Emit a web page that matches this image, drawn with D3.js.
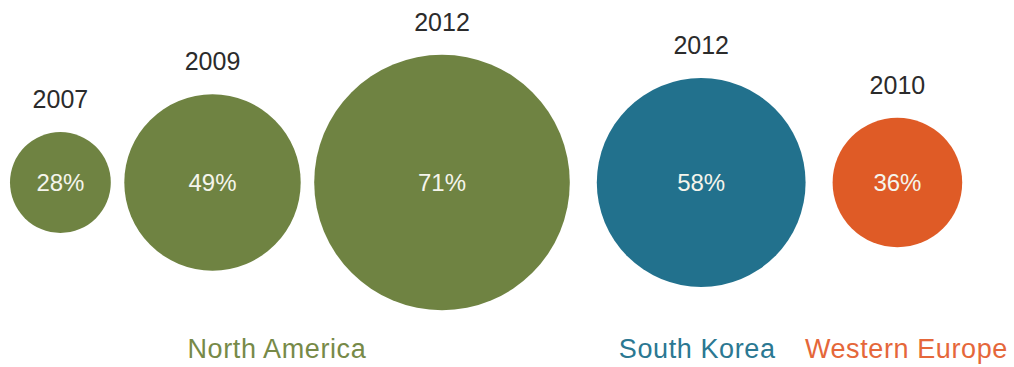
<!DOCTYPE html>
<html>
<head>
<meta charset="utf-8">
<script src="https://cdn.jsdelivr.net/npm/d3@7"></script>
<style>
  html, body { margin: 0; padding: 0; background: #ffffff; }
  svg { display: block; font-family: "Liberation Sans", Arial, sans-serif; }
</style>
</head>
<body>
<svg id="chart" width="1014" height="367"></svg>
<script>
// Share values (%) with their survey year and region
const regions = ["North America", "North America", "North America", "South Korea", "Western Europe"];
const years = ["2007", "2009", "2012", "2012", "2010"];
const values = [28, 49, 71, 58, 36];

// Region names shown under the bubbles and their colours
const groups = ["North America", "South Korea", "Western Europe"];
const groupColors = ["#6f8342", "#22718d", "#df5b26"];
const groupTextColors = ["#778a48", "#2b7892", "#e5673a"];

const width = 1014, height = 367;
const svg = d3.select("#chart");

const color = d3.scaleOrdinal().domain(groups).range(groupColors);
const textColor = d3.scaleOrdinal().domain(groups).range(groupTextColors);

// Bubble radius grows linearly with the value
const r = d3.scaleLinear().domain([0, 100]).range([0, 180]);

// Lay bubbles side by side: tight gaps within a region, wider gaps between regions
const leftEdge = 10, gapInner = 13.5, gapOuter = 27, cy = 182.5;
const bubbles = [];
let cursor = leftEdge;
values.forEach((v, i) => {
  const rad = r(v);
  if (i > 0) cursor += (regions[i] === regions[i - 1]) ? gapInner : gapOuter;
  bubbles.push({ region: regions[i], year: years[i], value: v, r: rad, x: cursor + rad });
  cursor += 2 * rad;
});

const g = svg.append("g");

g.selectAll("circle")
  .data(bubbles)
  .join("circle")
  .attr("cx", d => d.x)
  .attr("cy", cy)
  .attr("r", d => d.r)
  .attr("fill", d => color(d.region));

// Value inside each bubble
g.selectAll("text.value")
  .data(bubbles)
  .join("text")
  .attr("class", "value")
  .attr("x", d => d.x)
  .attr("y", cy + 8.5)
  .attr("text-anchor", "middle")
  .attr("font-size", 24)
  .attr("fill", "#f5f5ec")
  .text(d => d.value + "%");

// Year above each bubble
g.selectAll("text.year")
  .data(bubbles)
  .join("text")
  .attr("class", "year")
  .attr("x", d => d.x)
  .attr("y", d => cy - d.r - 24)
  .attr("text-anchor", "middle")
  .attr("font-size", 25)
  .attr("fill", "#2b2b2b")
  .text(d => d.year);

// Region names under their bubbles, nudged slightly so the long names fit the row
const labelNudge = { "North America": -13, "South Korea": -4, "Western Europe": 9 };
const groupInfo = groups.map(name => {
  const members = bubbles.filter(b => b.region === name);
  const x0 = d3.min(members, b => b.x - b.r);
  const x1 = d3.max(members, b => b.x + b.r);
  return { name, x: (x0 + x1) / 2 + labelNudge[name] };
});

g.selectAll("text.region")
  .data(groupInfo)
  .join("text")
  .attr("class", "region")
  .attr("x", d => d.x)
  .attr("y", 358)
  .attr("text-anchor", "middle")
  .attr("font-size", 27)
  .attr("letter-spacing", "0.6px")
  .attr("fill", d => textColor(d.name))
  .text(d => d.name);
</script>
</body>
</html>
